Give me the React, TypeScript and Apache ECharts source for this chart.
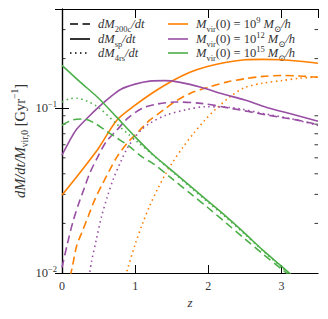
import React, { useEffect, useRef } from "react";
import * as echarts from "echarts";

// ---- data: [z, dM/dt / Mvir,0] ----
const orangeSp: [number, number][] = [
  [0, 0.0297], [0.25, 0.0409], [0.5, 0.0572], [0.75, 0.0846], [1.0, 0.1043], [1.25, 0.125],
  [1.5, 0.1458], [1.75, 0.1653], [2.0, 0.1797], [2.25, 0.19], [2.5, 0.1968], [2.75, 0.198],
  [3.0, 0.1968], [3.25, 0.1927], [3.5, 0.1874],
];
const orange200c: [number, number][] = [
  [0.11, 0.0095], [0.14, 0.0108], [0.2, 0.0146], [0.28, 0.018], [0.36, 0.0222], [0.45, 0.028],
  [0.55, 0.0345], [0.65, 0.042], [0.75, 0.0505], [0.9, 0.062], [1.05, 0.0725], [1.2, 0.0846],
  [1.38, 0.097], [1.55, 0.11], [1.75, 0.123], [2.0, 0.134], [2.25, 0.144], [2.5, 0.151],
  [2.75, 0.156], [3.0, 0.158], [3.25, 0.157], [3.5, 0.154],
];
const orange4rs: [number, number][] = [
  [0.87, 0.0096], [0.88, 0.01], [1.0, 0.0149], [1.1, 0.0199], [1.2, 0.0256], [1.3, 0.0319],
  [1.4, 0.0388], [1.5, 0.0461], [1.65, 0.0577], [1.8, 0.0705], [1.95, 0.0843], [2.1, 0.0986],
  [2.3, 0.1175], [2.5, 0.1337], [2.75, 0.142], [3.0, 0.147], [3.25, 0.152], [3.5, 0.155],
];
const purpleSp: [number, number][] = [
  [0, 0.052], [0.1, 0.063], [0.2, 0.0745], [0.35, 0.0875], [0.5, 0.1015], [0.65, 0.116],
  [0.8, 0.13], [1.0, 0.14], [1.2, 0.146], [1.4, 0.147], [1.6, 0.144], [1.9, 0.134],
  [2.2, 0.122], [2.5, 0.112], [2.8, 0.101], [3.15, 0.092], [3.5, 0.0834],
];
const purple200c: [number, number][] = [
  [0, 0.0108], [0.07, 0.0148], [0.15, 0.0205], [0.23, 0.0265], [0.3, 0.0323], [0.38, 0.0404],
  [0.48, 0.0498], [0.6, 0.0622], [0.75, 0.0736], [0.9, 0.087], [1.1, 0.1], [1.3, 0.106],
  [1.55, 0.109], [1.9, 0.107], [2.3, 0.1], [2.8, 0.091], [3.2, 0.085], [3.5, 0.0795],
];
const purple4rs: [number, number][] = [
  [0.37, 0.0095], [0.4, 0.0115], [0.47, 0.016], [0.54, 0.022], [0.62, 0.029], [0.7, 0.037],
  [0.8, 0.047], [0.9, 0.058], [1.0, 0.067], [1.1, 0.075], [1.2, 0.081], [1.42, 0.0907],
  [1.7, 0.098], [1.95, 0.102], [2.3, 0.101], [2.8, 0.092], [3.2, 0.085], [3.5, 0.0785],
];
const greenSp: [number, number][] = [
  [0, 0.182], [0.25, 0.144], [0.5, 0.115], [0.75, 0.088], [1.0, 0.067], [1.25, 0.052],
  [1.5, 0.042], [1.75, 0.0338], [2.0, 0.0272], [2.25, 0.0219], [2.5, 0.0174], [2.75, 0.0137],
  [3.0, 0.011], [3.25, 0.0088],
];
const green200c: [number, number][] = [
  [0, 0.079], [0.15, 0.085], [0.3, 0.086], [0.45, 0.081], [0.6, 0.073], [0.75, 0.066],
  [0.9, 0.0596], [1.1, 0.0505], [1.25, 0.046], [1.5, 0.0375], [1.75, 0.0305], [2.0, 0.0248],
  [2.25, 0.02], [2.5, 0.0161], [2.75, 0.013], [3.0, 0.0106], [3.25, 0.0086],
];
const green4rs: [number, number][] = [
  [0, 0.109], [0.1, 0.114], [0.2, 0.115], [0.35, 0.11], [0.5, 0.101], [0.75, 0.08],
  [0.9, 0.07], [1.05, 0.0615], [1.2, 0.054], [1.5, 0.0415], [1.75, 0.0333], [2.0, 0.0268],
  [2.25, 0.0216], [2.5, 0.0172], [2.75, 0.0136], [3.0, 0.0109], [3.25, 0.0087],
];

const minorYTicks = [0.02, 0.03, 0.04, 0.05, 0.06, 0.07, 0.08, 0.09, 0.2, 0.3];
const massLabels = ["9", "12", "15"];
const rateLabels = ["200c", "sp", "4rs"];

const ORANGE = "#ff7f00";
const PURPLE = "#984ea3";
const GREEN = "#4daf4a";
const SERIF = "'Liberation Serif', 'DejaVu Serif', serif";
const DASH = [8, 4.5];
const DOT = [1.5, 3.5];

function line(name: string, data: [number, number][], color: string, type: any) {
  return {
    name,
    type: "line",
    data,
    showSymbol: false,
    symbol: "none",
    smooth: 0.3,
    clip: true,
    lineStyle: { color, width: 1.6, type, cap: "butt" },
    silent: true,
  };
}

const richBase = {
  i: { fontFamily: SERIF, fontStyle: "italic", fontSize: 12.5, lineHeight: 18, color: "#333" },
  r: { fontFamily: SERIF, fontSize: 12.5, lineHeight: 18, color: "#333" },
  sub: { fontFamily: SERIF, fontSize: 8.5, lineHeight: 9, verticalAlign: "bottom", color: "#333" },
  sup: { fontFamily: SERIF, fontSize: 8.5, lineHeight: 9, verticalAlign: "top", color: "#333" },
};

export default function App() {
  const ref = useRef<HTMLDivElement>(null);
  useEffect(() => {
    if (!ref.current) return;
    const chart = echarts.init(ref.current, undefined, { renderer: "svg" });
    const gridL = 62, gridT = 9, gridR = 10, gridB = 46;

    const legendGraphics: any[] = [];
    const styleTypes: any[] = [DASH, "solid", DOT];
    const rowsY = [24, 39, 53];
    rowsY.forEach((y, k) => {
      legendGraphics.push({
        type: "line",
        shape: { x1: 70, y1: y, x2: 90, y2: y },
        style: { stroke: "#000", lineWidth: 1.6, lineDash: k === 1 ? null : styleTypes[k] },
        silent: true,
      });
      legendGraphics.push({
        type: "text",
        x: 98,
        y,
        style: {
          text: `{i|dM}{sub|${rateLabels[k]}}{i|/dt}`,
          rich: richBase,
          fill: "#333",
          verticalAlign: "middle",
          align: "left",
        },
        silent: true,
      });
      const col = [ORANGE, PURPLE, GREEN][k];
      legendGraphics.push({
        type: "line",
        shape: { x1: 168, y1: y, x2: 188, y2: y },
        style: { stroke: col, lineWidth: 1.6 },
        silent: true,
      });
      legendGraphics.push({
        type: "text",
        x: 196,
        y,
        style: {
          text: `{i|M}{sub|vir}{r|(0) = 10}{sup|${massLabels[k]}}{i| M}{sub|⊙}{i|/h}`,
          rich: richBase,
          fill: "#333",
          verticalAlign: "middle",
          align: "left",
        },
        silent: true,
      });
    });

    const option: any = {
      animation: false,
      grid: { left: gridL, top: gridT, right: gridR, bottom: gridB },
      xAxis: [
        {
          type: "value", min: 0, max: 3.5, interval: 1, position: "bottom",
          axisLine: { show: true, lineStyle: { color: "#000", width: 1.2 } },
          axisTick: { show: true, inside: true, length: 8, lineStyle: { color: "#000", width: 1 } },
          axisLabel: { show: true, color: "#333", fontFamily: SERIF, fontSize: 12, margin: 7, showMaxLabel: false },
          splitLine: { show: false },
        },
        {
          type: "value", min: 0, max: 3.5, interval: 1, position: "top",
          axisLine: { show: true, onZero: false, lineStyle: { color: "#000", width: 1.2 } },
          axisTick: { show: true, inside: true, length: 9, lineStyle: { color: "#000", width: 1 } },
          axisLabel: { show: false },
          splitLine: { show: false },
        },
      ],
      yAxis: [
        {
          type: "log", logBase: 10, min: 0.01, max: 0.4, position: "left",
          axisLine: { show: true, lineStyle: { color: "#000", width: 1.2 } },
          axisTick: { show: true, inside: true, length: 7, lineStyle: { color: "#000", width: 1 } },
          axisLabel: {
            show: true, margin: 5, showMaxLabel: false,
            formatter: (v: number) => {
              if (Math.abs(v - 0.1) < 1e-6) return "{b|10}{s|−1}";
              if (Math.abs(v - 0.01) < 1e-7) return "{b|10}{s|−2}";
              return "";
            },
            rich: {
              b: { fontFamily: SERIF, fontSize: 12.5, lineHeight: 18, color: "#333" },
              s: { fontFamily: SERIF, fontSize: 8.5, lineHeight: 9, verticalAlign: "top", color: "#333" },
            },
          },
          splitLine: { show: false },
        },
        {
          type: "log", logBase: 10, min: 0.01, max: 0.4, position: "right",
          axisLine: { show: true, lineStyle: { color: "#000", width: 1.2 } },
          axisTick: { show: true, inside: true, length: 7, lineStyle: { color: "#000", width: 1 } },
          axisLabel: { show: false },
          splitLine: { show: false },
        },
      ],
      series: [
        line("dM200c 1e9", orange200c, ORANGE, DASH),
        line("dMsp 1e9", orangeSp, ORANGE, "solid"),
        line("dM4rs 1e9", orange4rs, ORANGE, DOT),
        line("dM200c 1e12", purple200c, PURPLE, DASH),
        line("dMsp 1e12", purpleSp, PURPLE, "solid"),
        line("dM4rs 1e12", purple4rs, PURPLE, DOT),
        line("dM200c 1e15", green200c, GREEN, DASH),
        line("dMsp 1e15", greenSp, GREEN, "solid"),
        line("dM4rs 1e15", green4rs, GREEN, DOT),
        {
          type: "custom",
          silent: true,
          clip: false,
          data: minorYTicks.map((v) => [0, v]),
          renderItem: (_p: any, api: any) => {
            const v = api.value(1);
            const l = api.coord([0, v]);
            const r = api.coord([3.5, v]);
            return {
              type: "group",
              children: [
                { type: "line", shape: { x1: l[0], y1: l[1], x2: l[0] + 3.5, y2: l[1] }, style: { stroke: "#000", lineWidth: 0.8 } },
                { type: "line", shape: { x1: r[0] - 3.5, y1: r[1], x2: r[0], y2: r[1] }, style: { stroke: "#000", lineWidth: 0.8 } },
              ],
            };
          },
        },
      ],
      graphic: [
        ...legendGraphics,
        {
          type: "text",
          x: 190,
          y: 302,
          style: { text: "z", fontFamily: SERIF, fontStyle: "italic", fontSize: 13, fill: "#333", align: "center", verticalAlign: "middle" },
          silent: true,
        },
        {
          type: "text",
          x: 20,
          y: 141,
          rotation: Math.PI / 2,
          style: {
            text: "{i|dM/dt/M}{sub|vir,0}{r| [Gyr}{sup|−1}{r|]}",
            rich: {
              i: { fontFamily: SERIF, fontStyle: "italic", fontSize: 14.5, lineHeight: 20, color: "#333" },
              r: { fontFamily: SERIF, fontSize: 14.5, lineHeight: 20, color: "#333" },
              sub: { fontFamily: SERIF, fontSize: 9.5, lineHeight: 10, verticalAlign: "bottom", color: "#333" },
              sup: { fontFamily: SERIF, fontSize: 9.5, lineHeight: 10, verticalAlign: "top", color: "#333" },
            },
            fill: "#333",
            align: "center",
            verticalAlign: "middle",
          },
          silent: true,
        },
      ],
    };
    chart.setOption(option);
    return () => chart.dispose();
  }, []);
  return (
    <div
      ref={ref}
      style={{ position: "absolute", left: 0, top: 0, width: 328, height: 319, background: "#fff" }}
    />
  );
}
